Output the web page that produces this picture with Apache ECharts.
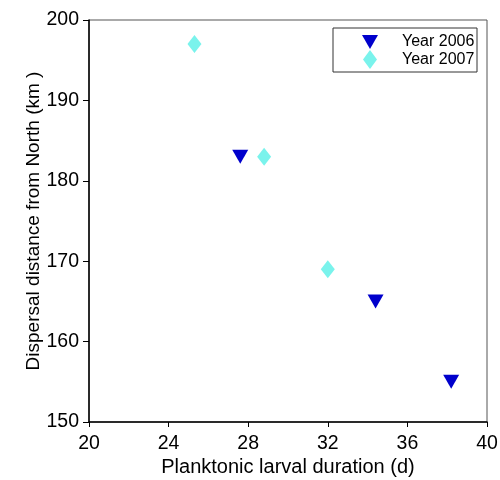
<!DOCTYPE html>
<html>
<head>
<meta charset="utf-8">
<script src="https://cdn.jsdelivr.net/npm/echarts@6/dist/echarts.min.js"></script>
<style>
html, body { margin: 0; padding: 0; background: #fff; }
#chart { width: 500px; height: 480px; }
</style>
</head>
<body>
<div id="chart"></div>
<script>
var myChart = echarts.init(document.getElementById('chart'));

// data: [larval duration (d), dispersal distance (km)]
var year2006 = [[27.6, 183], [34.4, 165], [38.2, 155]];
var year2007 = [[25.3, 197], [28.8, 183], [32.0, 169]];
var seriesNames = ['Year 2006', 'Year 2007'];
var xTicks = [20, 40, 4];
var yTicks = [150, 200, 10];

var font = 'Liberation Sans, Arial, sans-serif';

var option = {
    animation: false,
    backgroundColor: '#fff',
    grid: {
        left: 89,
        right: 13,
        top: 20,
        bottom: 58,
        outerBoundsMode: 'none',
        show: true,
        borderColor: '#555',
        borderWidth: 1
    },
    legend: {
        orient: 'vertical',
        left: 362,
        top: 34,
        padding: 0,
        itemWidth: 16,
        itemHeight: 19,
        itemGap: 0,
        symbolKeepAspect: true,
        data: [
            { name: seriesNames[0], icon: 'path://M0,0 L16,0 L8,14 Z' },
            { name: seriesNames[1], icon: 'path://M7,0 L14,9.5 L7,19 L0,9.5 Z' }
        ],
        textStyle: {
            fontFamily: font,
            fontSize: 16,
            color: '#000',
            padding: [0, 0, 0, 19]
        }
    },
    // legend frame
    graphic: [{
        type: 'rect',
        shape: { x: 333, y: 28, width: 144, height: 44 },
        style: { fill: 'none', stroke: '#333', lineWidth: 1 }
    }],
    xAxis: {
        type: 'value',
        min: xTicks[0],
        max: xTicks[1],
        interval: xTicks[2],
        name: 'Planktonic larval duration (d)',
        nameLocation: 'middle',
        nameGap: 35,
        nameMoveOverlap: false,
        nameTextStyle: { fontFamily: font, fontSize: 20, color: '#000' },
        splitLine: { show: false },
        axisLine: { lineStyle: { color: '#000', width: 1.5 } },
        axisTick: { inside: false, length: 5, lineStyle: { color: '#000' } },
        axisLabel: { fontFamily: font, fontSize: 19.5, color: '#000', margin: 12 }
    },
    yAxis: {
        type: 'value',
        min: yTicks[0],
        max: yTicks[1],
        interval: yTicks[2],
        name: 'Dispersal distance from North (km )',
        nameLocation: 'middle',
        nameGap: 46,
        nameMoveOverlap: false,
        nameTextStyle: { fontFamily: font, fontSize: 19, color: '#000' },
        splitLine: { show: false },
        axisLine: { lineStyle: { color: '#000', width: 1.5 } },
        axisTick: { inside: false, length: 6, lineStyle: { color: '#000' } },
        axisLabel: { fontFamily: font, fontSize: 19.5, color: '#000', margin: 10 }
    },
    series: [{
        name: seriesNames[0],
        type: 'scatter',
        symbol: 'triangle',
        symbolRotate: 180,
        symbolSize: [16, 14],
        itemStyle: { color: '#0000cc', opacity: 1 },
        data: year2006
    }, {
        name: seriesNames[1],
        type: 'scatter',
        symbol: 'diamond',
        symbolSize: [14, 18],
        itemStyle: { color: '#7af3ec', opacity: 1 },
        data: year2007
    }]
};

myChart.setOption(option);
</script>
</body>
</html>
